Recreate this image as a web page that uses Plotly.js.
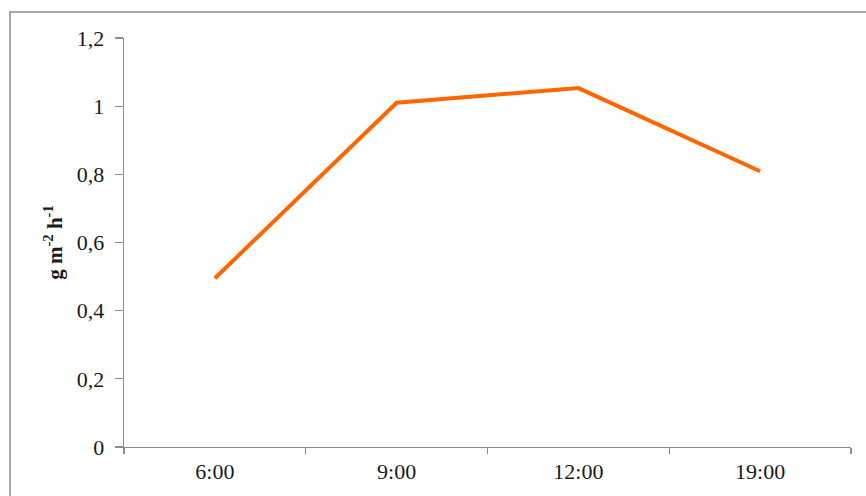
<!DOCTYPE html>
<html>
<head>
<meta charset="utf-8">
<script src="https://cdn.plot.ly/plotly-3.0.1.min.js"></script>
<style>html,body{margin:0;padding:0;background:#fff;}#chart{width:866px;height:496px;}</style>
</head>
<body>
<div id="chart"></div>
<script>
const categories = ["6:00", "9:00", "12:00", "19:00"];
const values = [0.495, 1.01, 1.053, 0.809];
const yTitle = "g m<sup>-2</sup> h<sup>-1</sup>";

const trace = {
  x: categories,
  y: values,
  type: "scatter",
  mode: "lines",
  line: {color: "#ff6600", width: 4},
  hoverinfo: "none"
};

const layout = {
  width: 866,
  height: 496,
  margin: {l: 124, r: 15, t: 38, b: 49},
  paper_bgcolor: "#ffffff",
  plot_bgcolor: "#ffffff",
  separators: ",.",
  showlegend: false,
  font: {family: "Liberation Serif, Times New Roman, serif", color: "#1a1a1a", size: 22},
  xaxis: {
    type: "category",
    range: [-0.5, 3.5],
    showgrid: false,
    zeroline: false,
    showline: true,
    linecolor: "#8c8c8c",
    linewidth: 1.3,
    ticks: "outside",
    tickson: "boundaries",
    ticklen: 6,
    tickcolor: "#8c8c8c",
    tickwidth: 1.3,
    ticklabelstandoff: 4,
    tickfont: {size: 22},
    fixedrange: true
  },
  yaxis: {
    range: [0, 1.2],
    dtick: 0.2,
    tick0: 0,
    showgrid: false,
    zeroline: false,
    showline: true,
    linecolor: "#8c8c8c",
    linewidth: 1.3,
    ticks: "outside",
    ticklen: 8,
    tickcolor: "#8c8c8c",
    tickwidth: 1.3,
    ticklabelstandoff: 6,
    tickfont: {size: 22},
    title: {text: yTitle, font: {size: 21, weight: "bold"}, standoff: 8},
    fixedrange: true
  },
  shapes: [{
    type: "rect",
    xref: "paper", yref: "paper",
    x0: -0.1568, x1: 1.05,
    y0: -0.3, y1: 1.0636,
    line: {color: "#8c8c8c", width: 1.5},
    fillcolor: "rgba(0,0,0,0)",
    layer: "below"
  }]
};

Plotly.newPlot("chart", [trace], layout, {staticPlot: true, displayModeBar: false});
</script>
</body>
</html>
